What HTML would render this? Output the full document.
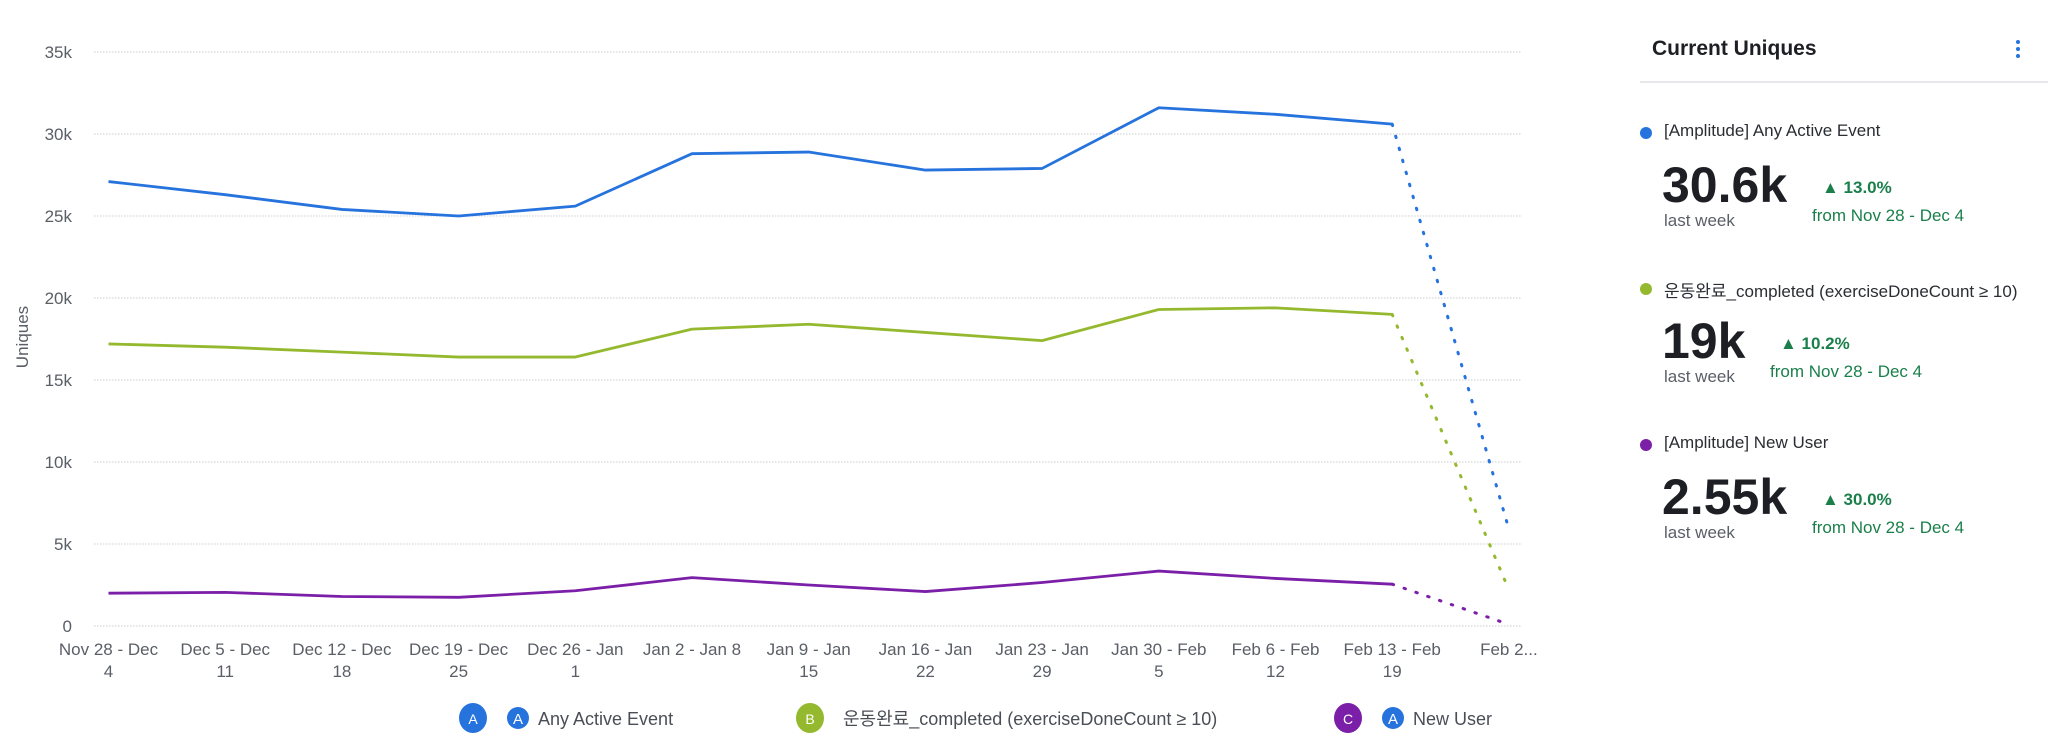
<!DOCTYPE html>
<html><head><meta charset="utf-8"><style>
body{margin:0;width:2048px;height:748px;background:#fff;font-family:"Liberation Sans","Noto Sans CJK KR",sans-serif;overflow:hidden;position:relative}
.panel{position:absolute;left:1640px;top:0;width:408px;height:748px}
.t{position:absolute;white-space:nowrap}
</style></head><body>
<svg id="chart" width="1580" height="748" style="position:absolute;left:0;top:0"></svg>
<div class="panel">
 <div class="t" style="left:12px;top:37px;font-size:21px;font-weight:bold;color:#1d1f24">Current Uniques</div>
 <div class="t" style="left:376px;top:40px;width:4px;">
  <div style="width:4px;height:4px;border-radius:2px;background:#2673de;margin-bottom:3px"></div><div style="width:4px;height:4px;border-radius:2px;background:#2673de;margin-bottom:3px"></div><div style="width:4px;height:4px;border-radius:2px;background:#2673de"></div></div>
 <div style="position:absolute;left:0;top:81px;width:408px;height:2px;background:#e6e8eb"></div>
 <div id="items"></div>
</div>
<script>
const categories=[["Nov 28 - Dec","4"],["Dec 5 - Dec","11"],["Dec 12 - Dec","18"],["Dec 19 - Dec","25"],["Dec 26 - Jan","1"],["Jan 2 - Jan 8",""],["Jan 9 - Jan","15"],["Jan 16 - Jan","22"],["Jan 23 - Jan","29"],["Jan 30 - Feb","5"],["Feb 6 - Feb","12"],["Feb 13 - Feb","19"],["Feb 2...",""]];
const seriesA=[27.1,26.3,25.4,25.0,25.6,28.8,28.9,27.8,27.9,31.6,31.2,30.6,5.9];
const seriesB=[17.2,17.0,16.7,16.4,16.4,18.1,18.4,17.9,17.4,19.3,19.4,19.0,2.2];
const seriesC=[2.0,2.05,1.8,1.75,2.15,2.95,2.5,2.1,2.65,3.35,2.9,2.55,0.1];
const yTicks=[0,5,10,15,20,25,30,35];
const NS="http://www.w3.org/2000/svg";
const svg=document.getElementById('chart');
const x0=94,x1=1522,yTop=52,yBot=626;
const xs=i=>108.5+i*116.7;
const ys=v=>yBot-(v/35)*(yBot-yTop);
function mk(t,a,txt){const e=document.createElementNS(NS,t);for(const k in a)e.setAttribute(k,a[k]);if(txt!==undefined)e.textContent=txt;svg.appendChild(e);return e;}
yTicks.forEach(v=>{
 const g=mk('line',{x1:x0,x2:x1,y1:ys(v),y2:ys(v),stroke:'#c8ccd2','stroke-dasharray':'1.5 1.5'});
 
 
 const l=mk('text',{x:72,y:ys(v)+6,'text-anchor':'end','font-size':17,fill:'#5a5e66'},v===0?'0':v+'k');
 
 
});
const yt=mk('text',{x:0,y:0,transform:'translate(28,337) rotate(-90)','text-anchor':'middle','font-size':17,fill:'#5a5e66'},'Uniques');


categories.forEach((c,i)=>{
 const t=mk('text',{x:xs(i),y:655,'text-anchor':'middle','font-size':17,fill:'#5a5e66'},c[0]);
 
 
 if(c[1]){const t2=mk('text',{x:xs(i),y:677,'text-anchor':'middle','font-size':17,fill:'#5a5e66'},c[1]);
 
 }
});
function series(vals,color,name){
 const n=vals.length;
 const pts=vals.slice(0,n-1).map((v,i)=>xs(i)+','+ys(v)).join(' ');
 const p=mk('polyline',{points:pts,fill:'none',stroke:color,'stroke-width':2.8,'stroke-linejoin':'round'});
 
 
 const d=mk('line',{x1:xs(n-2),y1:ys(vals[n-2]),x2:xs(n-1),y2:ys(vals[n-1]),stroke:color,'stroke-width':3,'stroke-dasharray':'1.5 11','stroke-linecap':'round'});
 
 
}
series(seriesA,'#2673de','any-active-event');
series(seriesB,'#95b92e','exercise-completed');
series(seriesC,'#7b1fa8','new-user');
const legend=[[473,'A','#2673de','Any Active Event',true],[810,'B','#95b92e','운동완료_completed (exerciseDoneCount ≥ 10)',false],[1348,'C','#7b1fa8','New User',true]];
legend.forEach(l=>{
 const g=document.createElementNS(NS,'g');svg.appendChild(g);
 
 
 const c=document.createElementNS(NS,'ellipse');c.setAttribute('cx',l[0]);c.setAttribute('cy',718);c.setAttribute('rx',14);c.setAttribute('ry',15);c.setAttribute('fill',l[2]);g.appendChild(c);
 const t=document.createElementNS(NS,'text');t.setAttribute('x',l[0]);t.setAttribute('y',724);t.setAttribute('text-anchor','middle');t.setAttribute('font-size',14);t.setAttribute('fill','#fff');t.textContent=l[1];g.appendChild(t);
 let tx=l[0]+33;
 if(l[4]){const c2=document.createElementNS(NS,'circle');c2.setAttribute('cx',l[0]+45);c2.setAttribute('cy',718);c2.setAttribute('r',11);c2.setAttribute('fill','#2673de');g.appendChild(c2);
  const a=document.createElementNS(NS,'text');a.setAttribute('x',l[0]+45);a.setAttribute('y',724);a.setAttribute('text-anchor','middle');a.setAttribute('font-size',15);a.setAttribute('fill','#fff');a.textContent='A';g.appendChild(a);tx=l[0]+65;}
 const lt=document.createElementNS(NS,'text');lt.setAttribute('x',tx);lt.setAttribute('y',725);lt.setAttribute('font-size',18);lt.setAttribute('fill','#4a4e56');lt.textContent=l[3];g.appendChild(lt);
});
const items=[['#2673de','[Amplitude] Any Active Event','30.6k','13.0%',172],['#95b92e','운동완료_completed (exerciseDoneCount ≥ 10)','19k','10.2%',130],['#7b1fa8','[Amplitude] New User','2.55k','30.0%',172]];
const box=document.getElementById('items');
items.forEach((it,i)=>{
 const top=118+i*156;
 const d=document.createElement('div');d.style.cssText=`position:absolute;left:0;top:${top}px;width:408px;height:150px`;
 
 
 d.innerHTML=`<div style="position:absolute;left:0;top:9px;width:12px;height:12px;border-radius:6px;background:${it[0]}"></div>
 <div class="t" style="left:24px;top:3px;font-size:17px;color:#2a2d33">${it[1]}</div>
 <div class="t" style="left:22px;top:38px;font-size:50px;font-weight:bold;color:#1d1f24">${it[2]}</div>
 <div class="t" style="left:24px;top:93px;font-size:17px;color:#5a5e66">last week</div>
 <div class="t" style="left:${it[4]+10}px;top:60px;font-size:17px;font-weight:bold;color:#1a7f4b">▲ ${it[3]}</div>
 <div class="t" style="left:${it[4]}px;top:88px;font-size:17px;color:#1a7f4b">from Nov 28 - Dec 4</div>`;
 box.appendChild(d);
});
</script>
</body></html>
